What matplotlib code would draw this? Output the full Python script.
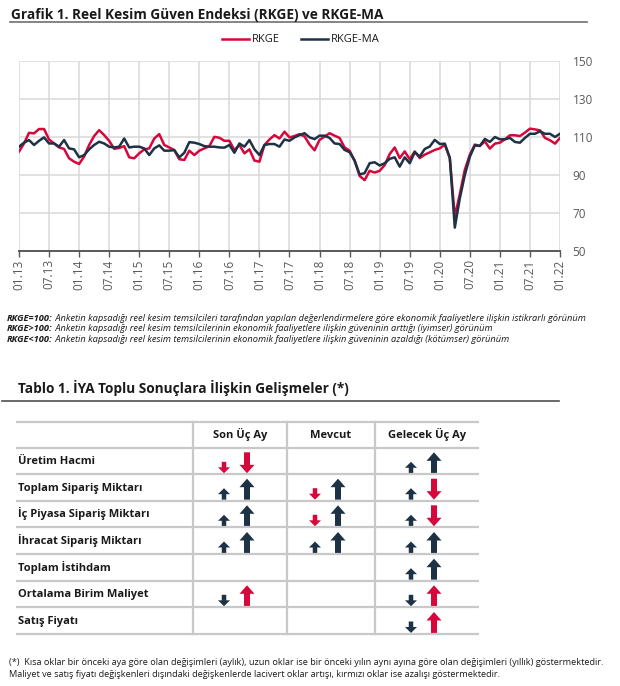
import matplotlib
matplotlib.use('Agg')
import matplotlib.pyplot as plt
from matplotlib.patches import Polygon

plt.rcParams['font.family'] = ['Open Sans', 'DejaVu Sans']

# ---------------- data ----------------
rkge = [102.3, 106.6, 112.2, 111.9, 114.2, 114.2, 108.7, 106.6, 104.5, 103.7,
        98.8, 97.0, 95.8, 99.7, 105.8, 110.5, 113.6, 111.0, 108.0, 103.8,
        104.2, 105.2, 99.3, 98.8, 101.4, 103.5, 104.0, 109.2, 111.5, 105.8,
        104.5, 103.1, 98.3, 97.9, 102.8, 100.5, 102.8, 104.0, 105.2, 110.1,
        109.6, 108.0, 108.0, 103.1, 105.8, 101.4, 103.5, 97.6, 97.0, 105.8,
        108.7, 111.0, 109.2, 112.8, 109.8, 110.5, 111.5, 110.3, 106.1, 103.0,
        108.5, 110.2, 112.0, 110.7, 109.5, 104.5, 102.8, 97.5, 89.5, 87.3,
        92.2, 91.3, 92.2, 95.2, 101.0, 104.5, 98.9, 102.4, 98.3, 102.4,
        98.9, 100.7, 101.9, 103.2, 104.0, 106.0, 99.0, 68.1, 80.0, 92.8,
        100.7, 106.0, 105.3, 107.7, 103.9, 106.5, 107.0, 108.8, 110.9, 110.9,
        110.5, 112.3, 114.4, 114.0, 113.5, 109.5, 108.3, 106.5, 109.5]
rkge_ma = [104.9, 107.0, 108.4, 105.8, 108.0, 109.8, 106.6, 106.6, 104.9, 108.4,
           104.0, 103.5, 99.3, 100.5, 103.5, 105.8, 107.5, 106.6, 104.9, 104.5,
           104.9, 109.2, 104.5, 104.9, 104.9, 104.0, 100.5, 104.0, 105.6, 102.8,
           102.8, 103.1, 99.3, 101.7, 107.3, 107.0, 106.3, 105.2, 104.9, 104.9,
           104.5, 104.4, 105.8, 101.7, 106.6, 104.9, 108.4, 103.5, 100.5, 105.8,
           106.3, 106.3, 104.9, 108.7, 108.0, 109.8, 111.0, 112.0, 109.8, 108.9,
           110.7, 110.7, 109.5, 106.6, 106.3, 103.2, 102.0, 97.6, 90.3, 91.0,
           96.2, 96.7, 95.0, 96.2, 98.5, 99.3, 94.4, 99.3, 96.2, 102.0,
           99.7, 103.7, 105.0, 108.5, 106.3, 106.5, 99.0, 62.3, 77.7, 90.0,
           99.6, 105.6, 105.3, 109.0, 107.4, 110.0, 108.8, 108.8, 109.5, 107.4,
           107.0, 109.5, 111.7, 111.7, 113.0, 111.7, 111.7, 110.0, 111.7]
x_labels = ['01.13', '07.13', '01.14', '07.14', '01.15', '07.15', '01.16', '07.16',
            '01.17', '07.17', '01.18', '07.18', '01.19', '07.19', '01.20', '07.20',
            '01.21', '07.21', '01.22']
y_ticks = [50, 70, 90, 110, 130, 150]
series_names = ['RKGE', 'RKGE-MA']

table_cols = ['Son Üç Ay', 'Mevcut', 'Gelecek Üç Ay']
table_rows = ['Üretim Hacmi', 'Toplam Sipariş Miktarı', 'İç Piyasa Sipariş Miktarı',
              'İhracat Sipariş Miktarı', 'Toplam İstihdam', 'Ortalama Birim Maliyet',
              'Satış Fiyatı']
# (short arrow, long arrow) direction per cell: 'u' up, 'd' down, None empty
table_arrows = [
    [('d', 'd'), None, ('u', 'u')],
    [('u', 'u'), ('d', 'u'), ('u', 'd')],
    [('u', 'u'), ('d', 'u'), ('u', 'd')],
    [('u', 'u'), ('u', 'u'), ('u', 'u')],
    [None, None, ('u', 'u')],
    [('d', 'u'), None, ('d', 'u')],
    [None, None, ('d', 'u')],
]
inverse_rows = [False, False, False, False, False, True, True]  # cost / price

title1 = 'Grafik 1. Reel Kesim Güven Endeksi (RKGE) ve RKGE-MA'
title2 = 'Tablo 1. İYA Toplu Sonuçlara İlişkin Gelişmeler (*)'
notes = [('RKGE=100:', ' Anketin kapsadığı reel kesim temsilcileri tarafından yapılan değerlendirmelere göre ekonomik faaliyetlere ilişkin istikrarlı görünüm'),
         ('RKGE>100:', ' Anketin kapsadığı reel kesim temsilcilerinin ekonomik faaliyetlere ilişkin güveninin arttığı (iyimser) görünüm'),
         ('RKGE<100:', ' Anketin kapsadığı reel kesim temsilcilerinin ekonomik faaliyetlere ilişkin güveninin azaldığı (kötümser) görünüm')]
footer = ['(*)  Kısa oklar bir önceki aya göre olan değişimleri (aylık), uzun oklar ise bir önceki yılın aynı ayına göre olan değişimleri (yıllık) göstermektedir.',
          'Maliyet ve satış fiyatı değişkenleri dışındaki değişkenlerde lacivert oklar artışı, kırmızı oklar ise azalışı göstermektedir.']

RED = '#d6083b'
NAVY = '#1e3246'
GRID = '#d9d9d9'
TXT = '#1a1a1a'
TICK = '#595959'

W, H = 620, 686
fig = plt.figure(figsize=(W / 100, H / 100), dpi=100)
fig.patch.set_facecolor('white')

ov = fig.add_axes([0, 0, 1, 1])
ov.set_xlim(0, W)
ov.set_ylim(H, 0)
ov.axis('off')

# ---------------- chart ----------------
ax = fig.add_axes([19 / W, 1 - 251 / H, 541 / W, 190 / H])
months = list(range(len(rkge)))
ax.plot(months, rkge, color=RED, lw=1.8, label=series_names[0], zorder=3)
ax.plot(months, rkge_ma, color=NAVY, lw=1.8, label=series_names[1], zorder=4)
ax.set_xlim(0, len(rkge) - 1)
ax.set_ylim(50, 150)
ax.set_xticks(list(range(0, len(rkge), 6)))
ax.set_xticklabels(x_labels, rotation=90, fontsize=8.5, color=TICK)
ax.set_yticks(y_ticks)
ax.yaxis.tick_right()
ax.set_yticklabels([str(v) for v in y_ticks], fontsize=8.5, color=TICK)
ax.tick_params(axis='y', length=0, pad=9)
ax.tick_params(axis='x', length=4, width=1, color=TICK, pad=2)
ax.grid(True, color=GRID, lw=1.1)
ax.set_axisbelow(True)
for s in ['top', 'left', 'right']:
    ax.spines[s].set_visible(False)
ax.spines['bottom'].set_color(TICK)
ax.spines['bottom'].set_linewidth(1.4)
ax.legend(loc='center', bbox_to_anchor=(301 / W, 1 - 40 / H), bbox_transform=fig.transFigure,
          ncol=2, frameon=False, fontsize=8, handlelength=2.4, handletextpad=0.3,
          columnspacing=1.9, labelcolor=TXT)

# titles
ov.text(11, 18.5, title1, fontsize=9.8, fontweight='bold', color=TXT, va='baseline', ha='left')
ov.plot([10, 587], [22, 22], color='#707070', lw=1.2)

# notes
note_y = [321, 331, 342]
for (b, r), yy in zip(notes, note_y):
    t1 = ov.text(7, yy, b, fontsize=6.65, fontweight='bold', style='italic', color=TXT,
                 va='baseline', ha='left')
    ov.annotate(r, xy=(1, 0), xycoords=t1, va='bottom', ha='left', fontsize=6.65,
                style='italic', color=TXT)

ov.text(18, 393, title2, fontsize=9.8, fontweight='bold', color=TXT, va='baseline', ha='left')
ov.plot([2, 559], [401, 401], color='#505050', lw=1.2)

# ---------------- table ----------------
tbl_left, tbl_right = 16, 479
col_edges = [193, 287, 375, 479]
row_lines = [421.7, 447.7, 474.3, 500.7, 527.3, 554, 580.7, 607.3, 634]
LINE = '#c8c8c8'
for yy in row_lines:
    ov.plot([tbl_left, tbl_right], [yy, yy], color=LINE, lw=1.6, solid_capstyle='butt')
for xx in col_edges[:-1]:
    ov.plot([xx, xx], [row_lines[0], row_lines[-1]], color=LINE, lw=1.6)

for j, c in enumerate(table_cols):
    cx = (col_edges[j] + col_edges[j + 1]) / 2
    ov.text(cx, (row_lines[0] + row_lines[1]) / 2 + 3.2, c, fontsize=8, fontweight='bold',
            color=TXT, ha='center', va='baseline')


def draw_arrow(xc, yb, direction, long, color):
    if long:
        h, hh, hw, sw = 21, 8.5, 15, 6
    else:
        h, hh, hw, sw = 11.5, 6, 12, 4.5
    if direction == 'u':
        pts = [(xc - sw / 2, yb), (xc - sw / 2, yb - h + hh), (xc - hw / 2, yb - h + hh),
               (xc, yb - h), (xc + hw / 2, yb - h + hh), (xc + sw / 2, yb - h + hh),
               (xc + sw / 2, yb)]
    else:
        pts = [(xc - sw / 2, yb - h), (xc - sw / 2, yb - hh), (xc - hw / 2, yb - hh),
               (xc, yb), (xc + hw / 2, yb - hh), (xc + sw / 2, yb - hh),
               (xc + sw / 2, yb - h)]
    ov.add_patch(Polygon(pts, closed=True, facecolor=color, edgecolor='none'))


for i, name in enumerate(table_rows):
    top, bot = row_lines[i + 1], row_lines[i + 2]
    ov.text(18, (top + bot) / 2 + 3.2, name, fontsize=8, fontweight='bold', color=TXT,
            ha='left', va='baseline')
    for j, cell in enumerate(table_arrows[i]):
        if cell is None:
            continue
        cx = (col_edges[j] + col_edges[j + 1]) / 2
        for k, d in enumerate(cell):
            up_color = RED if inverse_rows[i] else NAVY
            dn_color = NAVY if inverse_rows[i] else RED
            col = up_color if d == 'u' else dn_color
            xc = cx - 16 if k == 0 else cx + 7
            draw_arrow(xc, bot - 1, d, k == 1, col)

# footer
for k, line in enumerate(footer):
    ov.text(9, 665 + 12 * k, line, fontsize=6.6, color=TXT, ha='left', va='baseline')

fig.savefig('out.png', dpi=100, facecolor='white')
